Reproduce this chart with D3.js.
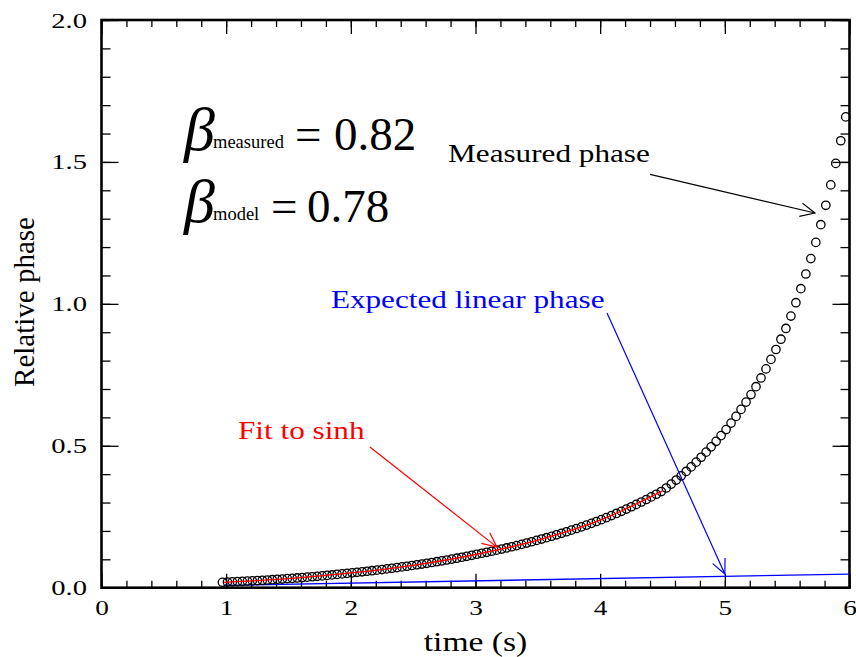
<!DOCTYPE html>
<html>
<head>
<meta charset="utf-8">
<script src="https://cdn.jsdelivr.net/npm/d3@7"></script>
<style>
  body { margin: 0; background: #fff; }
  text { font-family: "Liberation Serif", "Times New Roman", serif; }
</style>
</head>
<body>
<svg id="chart"></svg>
<script>
// measured phase, one circle per sample
const times = [
  0.97, 1.01, 1.05, 1.09, 1.13, 1.17, 1.21, 1.25, 1.29, 1.33, 1.37, 1.41, 1.45, 1.49,
  1.53, 1.57, 1.61, 1.65, 1.69, 1.73, 1.77, 1.81, 1.85, 1.89, 1.93, 1.97,
  2.01, 2.05, 2.09, 2.13, 2.17, 2.21, 2.25, 2.29, 2.33, 2.37, 2.41, 2.45, 2.49,
  2.53, 2.57, 2.61, 2.65, 2.69, 2.73, 2.77, 2.81, 2.85, 2.89, 2.93, 2.97,
  3.01, 3.05, 3.09, 3.13, 3.17, 3.21, 3.25, 3.29, 3.33, 3.37, 3.41, 3.45, 3.49,
  3.53, 3.57, 3.61, 3.65, 3.69, 3.73, 3.77, 3.81, 3.85, 3.89, 3.93, 3.97,
  4.01, 4.05, 4.09, 4.13, 4.17, 4.21, 4.25, 4.29, 4.33, 4.37, 4.41, 4.45, 4.49,
  4.53, 4.57, 4.61, 4.65, 4.69, 4.73, 4.77, 4.81, 4.85, 4.89, 4.93, 4.97,
  5.01, 5.05, 5.09, 5.13, 5.17, 5.21, 5.25, 5.29, 5.33, 5.37, 5.41, 5.45, 5.49,
  5.53, 5.57, 5.61, 5.65, 5.69, 5.73, 5.77, 5.81, 5.85, 5.89, 5.93, 5.97
];
const phase = [
  0.0190, 0.0198, 0.0206, 0.0214, 0.0223, 0.0232, 0.0241, 0.0251, 0.0261, 0.0271, 0.0282, 0.0294, 0.0305, 0.0318,
  0.0330, 0.0343, 0.0357, 0.0371, 0.0385, 0.0401, 0.0416, 0.0433, 0.0450, 0.0468, 0.0486, 0.0505,
  0.0524, 0.0542, 0.0561, 0.0580, 0.0599, 0.0619, 0.0640, 0.0662, 0.0684, 0.0708, 0.0732, 0.0756, 0.0782,
  0.0808, 0.0834, 0.0860, 0.0888, 0.0916, 0.0946, 0.0976, 0.1007, 0.1039, 0.1073, 0.1107, 0.1142,
  0.1178, 0.1213, 0.1248, 0.1285, 0.1322, 0.1361, 0.1401, 0.1442, 0.1484, 0.1528, 0.1573, 0.1619, 0.1666,
  0.1714, 0.1762, 0.1812, 0.1864, 0.1917, 0.1971, 0.2027, 0.2085, 0.2144, 0.2205, 0.2267, 0.2332,
  0.2398, 0.2469, 0.2541, 0.2615, 0.2691, 0.2770, 0.2851, 0.2934, 0.3020, 0.3108, 0.3199, 0.3292, 0.3388,
  0.3513, 0.3650, 0.3793, 0.3942, 0.4096, 0.4256, 0.4423, 0.4596, 0.4776, 0.4963, 0.5157, 0.5359,
  0.5571, 0.5798, 0.6035, 0.6281, 0.6538, 0.6804, 0.7082, 0.7389, 0.7709, 0.8043, 0.8391, 0.8754, 0.9133,
  0.9570, 1.0040, 1.0534, 1.1052, 1.1595, 1.2165, 1.2789, 1.3472, 1.4191, 1.4948, 1.5746, 1.6587
];

// sinh fit (red) and expected linear phase (blue)
const fitTime = [0.98, 1.5, 2.0, 2.5, 3.0, 3.5, 4.0, 4.5];
const fitPhase = [0.019, 0.032, 0.052, 0.079, 0.117, 0.168, 0.238, 0.341];
const linTime = [0.98, 6.0];
const linPhase = [0.008, 0.048];

const xTicks = [0, 1, 2, 3, 4, 5, 6];
const yTicks = [0, 0.5, 1.0, 1.5, 2.0];

// arrow labels, in data units
const notes = [
  { label: 'Measured phase', color: '#000', tx: 2.78, ty: 1.50, from: [4.40, 1.456], to: [5.723, 1.320] },
  { label: 'Expected linear phase', color: '#0000ff', tx: 1.84, ty: 0.985, from: [4.055, 0.968], to: [5.0, 0.048] },
  { label: 'Fit to sinh', color: '#ff0000', tx: 1.095, ty: 0.523, from: [2.153, 0.496], to: [3.172, 0.143] }
];
const betas = [
  { sub: 'measured', value: '0.82', t: 0.686, v: 1.542, eq: 108, val: 147 },
  { sub: 'model', value: '0.78', t: 0.686, v: 1.289, eq: 84, val: 120 }
];

const width = 856, height = 657;
const svg = d3.select('#chart').attr('width', width).attr('height', height);

const x = d3.scaleLinear().domain([0, 6]).range([101.5, 849.5]);
const y = d3.scaleLinear().domain([0, 2]).range([587.7, 20]);
const SX = 1.3; // tick labels are drawn wider than tall

// minor ticks, all four sides, pointing inward
const xMinor = d3.range(0, 6.001, 0.2);
const yMinor = d3.range(0, 2.001, 0.1);
const minorStyle = g => g.call(g => g.select('.domain').remove())
  .selectAll('line').attr('stroke', '#000').attr('stroke-width', 1.3);

svg.append('g').attr('transform', `translate(0,${y(0)})`)
  .call(d3.axisBottom(x).tickValues(xMinor).tickSize(-7).tickFormat('')).call(minorStyle);
svg.append('g').attr('transform', `translate(0,${y(2)})`)
  .call(d3.axisTop(x).tickValues(xMinor).tickSize(-7).tickFormat('')).call(minorStyle);
svg.append('g').attr('transform', `translate(${x(0)},0)`)
  .call(d3.axisLeft(y).tickValues(yMinor).tickSize(-9).tickFormat('')).call(minorStyle);
svg.append('g').attr('transform', `translate(${x(6)},0)`)
  .call(d3.axisRight(y).tickValues(yMinor).tickSize(-9).tickFormat('')).call(minorStyle);

// major ticks with labels
const xAxis = svg.append('g').attr('transform', `translate(0,${y(0)})`)
  .call(d3.axisBottom(x).tickValues(xTicks).tickSize(-14).tickPadding(12).tickFormat(d3.format('d')));
svg.append('g').attr('transform', `translate(0,${y(2)})`)
  .call(d3.axisTop(x).tickValues(xTicks).tickSize(-14).tickFormat(''));
const yAxis = svg.append('g').attr('transform', `translate(${x(0)},0)`)
  .call(d3.axisLeft(y).tickValues(yTicks).tickSize(-17).tickPadding(14).tickFormat(d3.format('.1f')));
svg.append('g').attr('transform', `translate(${x(6)},0)`)
  .call(d3.axisRight(y).tickValues(yTicks).tickSize(-17).tickFormat(''));

svg.selectAll('.domain').remove();
svg.selectAll('.tick line').attr('stroke', '#000').attr('stroke-width', 1.3);

xAxis.selectAll('text')
  .attr('font-family', '"Liberation Serif", serif')
  .attr('font-size', 21).attr('fill', '#000')
  .attr('transform', `scale(${SX},1)`);
yAxis.selectAll('text')
  .attr('font-family', '"Liberation Serif", serif')
  .attr('font-size', 22).attr('fill', '#000')
  .attr('x', -14.5 / SX)
  .attr('transform', `scale(${SX},1)`);

// frame
svg.append('rect')
  .attr('x', x(0)).attr('y', y(2))
  .attr('width', x(6) - x(0)).attr('height', y(0) - y(2))
  .attr('fill', 'none').attr('stroke', '#000').attr('stroke-width', 2.6);

// axis titles
svg.append('text')
  .attr('transform', `translate(34,302) rotate(-90)`)
  .attr('text-anchor', 'middle')
  .attr('font-size', 29)
  .text('Relative phase');
svg.append('text')
  .attr('transform', `translate(${(x(0) + x(6)) / 2},651) scale(1.2,1)`)
  .attr('text-anchor', 'middle')
  .attr('font-size', 28)
  .text('time (s)');

// expected linear phase
const line = d3.line().x(d => x(d[0])).y(d => y(d[1]));
svg.append('path')
  .datum(linTime.map((t, i) => [t, linPhase[i]]))
  .attr('d', line)
  .attr('fill', 'none').attr('stroke', '#0000ff').attr('stroke-width', 1.3);

// measured points
svg.append('g').selectAll('circle')
  .data(times.map((t, i) => [t, phase[i]]))
  .join('circle')
  .attr('cx', d => x(d[0]))
  .attr('cy', d => y(d[1]))
  .attr('r', 4.2)
  .attr('fill', 'none')
  .attr('stroke', '#000')
  .attr('stroke-width', 1.3);

// sinh fit
svg.append('path')
  .datum(fitTime.map((t, i) => [t, fitPhase[i]]))
  .attr('d', line.curve(d3.curveMonotoneX))
  .attr('fill', 'none').attr('stroke', '#ff0000').attr('stroke-width', 1.3);

// annotations with open arrow heads
const barb = 16, spread = 25 * Math.PI / 180;
notes.forEach(n => {
  svg.append('text')
    .attr('transform', `translate(${x(n.tx)},${y(n.ty)}) scale(1.2,1)`)
    .attr('font-size', 26)
    .attr('fill', n.color)
    .text(n.label);

  const x0 = x(n.from[0]), y0 = y(n.from[1]);
  const x1 = x(n.to[0]), y1 = y(n.to[1]);
  const a = Math.atan2(y0 - y1, x0 - x1);
  const pts = [
    [x1 + barb * Math.cos(a + spread), y1 + barb * Math.sin(a + spread)],
    [x1, y1],
    [x1 + barb * Math.cos(a - spread), y1 + barb * Math.sin(a - spread)]
  ];
  const g = svg.append('g').attr('stroke', n.color).attr('stroke-width', 1.2).attr('fill', 'none');
  g.append('line').attr('x1', x0).attr('y1', y0).attr('x2', x1).attr('y2', y1);
  g.append('path').attr('d', d3.line()(pts));
});

// beta values
betas.forEach(b => {
  const g = svg.append('g').attr('transform', `translate(${x(b.t)},${y(b.v)})`);
  g.append('text').attr('x', -3).attr('font-size', 62).attr('font-style', 'italic').text('β');
  g.append('text').attr('x', 26).attr('y', -2).attr('font-size', 18.5).text(b.sub);
  g.append('text').attr('x', b.eq).attr('font-size', 47).text('=');
  g.append('text').attr('x', b.val).attr('font-size', 47).text(b.value);
});
</script>
</body>
</html>
